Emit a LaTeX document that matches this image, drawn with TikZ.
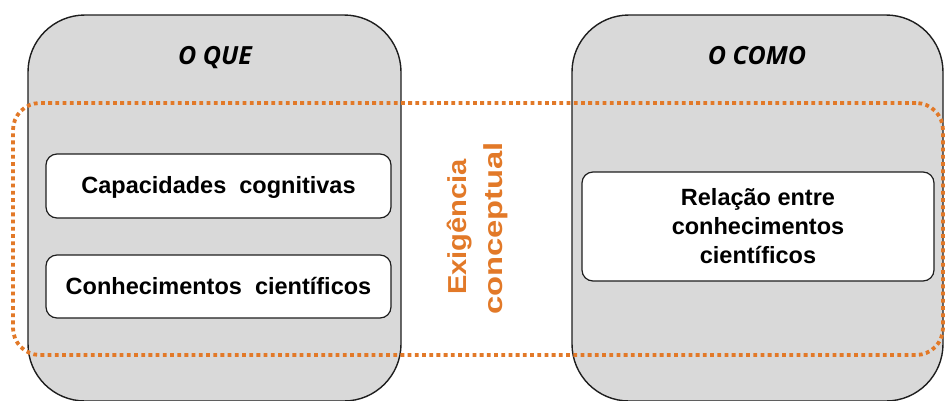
\documentclass[tikz,border=0pt]{standalone}
\usepackage{fontspec}
\setmainfont{Liberation Sans}
\newfontfamily\titlefont{Open Sans}
\definecolor{boxgrey}{RGB}{217,217,217}
\definecolor{edgegrey}{RGB}{30,30,30}
\definecolor{accent}{RGB}{226,121,40}
\begin{document}
\begin{tikzpicture}[x=1pt,y=-1pt,
  greybox/.style={draw=edgegrey, line width=1.4pt, fill=boxgrey, rounded corners=57pt, inner sep=0pt},
  whitebox/.style={draw=edgegrey, line width=1.2pt, fill=white, rounded corners=11pt, inner sep=0pt, align=center, font=\fontsize{23.5}{29}\selectfont\bfseries},
  titletext/.style={font=\titlefont\fontsize{25}{28}\selectfont\bfseries\itshape, anchor=base},
  orangedot/.style={draw=accent, line width=3.8pt, dash pattern=on 3.8pt off 3.4pt, rounded corners=27pt},
  sidetext/.style={text=accent, font=\fontsize{26}{30}\selectfont\bfseries, rotate=90, anchor=base, inner sep=0pt}]
\clip (0,0) rectangle (946,400);
\fill[white] (0,0) rectangle (946,400);
\node[greybox, minimum width=373pt, minimum height=386pt] (que) at (214.5,208) {};
\node[greybox, minimum width=371pt, minimum height=386pt] (como) at (757.5,208) {};
\node[titletext] (quet) at (215,64) {O QUE};
\node[titletext] (comot) at (757,64) {O COMO};
\node[whitebox, minimum width=345pt, minimum height=64pt, text height=15pt, text depth=0pt] (cap) at (218.5,186) {Capacidades\ \ cognitivas};
\node[whitebox, minimum width=345pt, minimum height=63pt, text height=15pt, text depth=0pt] (con) at (218.5,286.5) {Conhecimentos\ \ científicos};
\node[whitebox, minimum width=352pt, minimum height=109pt] (rel) at (758,226.5) {Relação entre\\conhecimentos\\científicos};
\node[orangedot, minimum width=930pt, minimum height=252pt] (zone) at (478,229) {};
\node[sidetext] (exig) at (466,227) {\scalebox{1.12}[1]{Exigência}};
\node[sidetext] (conc) at (502,228.5) {\scalebox{1.26}[1]{conceptual}};
\end{tikzpicture}
\end{document}
